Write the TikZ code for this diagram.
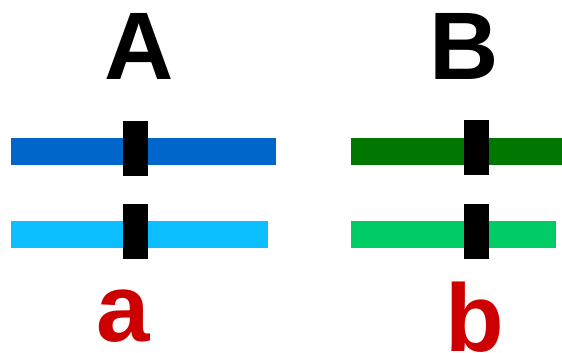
\documentclass[tikz,border=0pt]{standalone}
\usepackage{fontspec}
\setmainfont{Liberation Sans}
\definecolor{darkblue}{RGB}{0,102,204}
\definecolor{lightblue}{RGB}{10,190,255}
\definecolor{darkgreen}{RGB}{0,120,0}
\definecolor{lightgreen}{RGB}{0,204,102}
\definecolor{labelred}{RGB}{204,0,0}
\begin{document}
\begin{tikzpicture}[
      x=1pt, y=-1pt,
      bar/.style={fill=#1, draw=none, inner sep=0pt, anchor=west,
                  minimum height=27pt},
      tick/.style={fill=black, inner sep=0pt, minimum width=25pt,
                   minimum height=55pt},
      letter/.style={anchor=base, inner sep=0pt,
                     font=\fontsize{96}{96}\selectfont\bfseries}
    ]
      \useasboundingbox (0,0) rectangle (562,353);
      % column headers
      \node[letter] (A) at (139,80) {A};
      \node[letter] (B) at (464,79) {B};
      % bars
      \node[bar=darkblue,  minimum width=265pt] (barA1) at (11,151.5) {};
      \node[bar=lightblue, minimum width=257pt] (barA2) at (11,234.5) {};
      \node[bar=darkgreen,  minimum width=211pt] (barB1) at (351,151.5) {};
      \node[bar=lightgreen, minimum width=205pt] (barB2) at (351,234.5) {};
      % markers on the bars
      \node[tick] (tickA1) at (135.5,148) {};
      \node[tick] (tickA2) at (135.5,231.5) {};
      \node[tick] (tickB1) at (476.5,147.5) {};
      \node[tick] (tickB2) at (476.5,231.5) {};
      % lower-case labels
      \node[letter, text=labelred] (a) at (123.5,341) {a};
      \node[letter, text=labelred] (b) at (475,351) {b};
    \end{tikzpicture}
\end{document}
